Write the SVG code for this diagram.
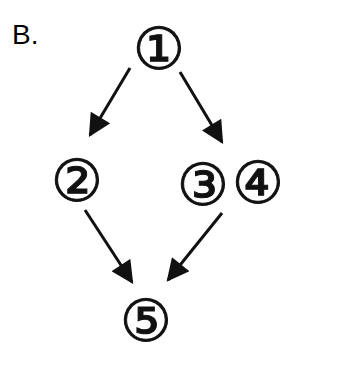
<svg xmlns="http://www.w3.org/2000/svg" width="344" height="367" viewBox="0 0 344 367">
<defs>
<style>
.n{font-family:"DejaVu Sans","Noto Sans CJK SC",sans-serif;font-size:58px;fill:#111;stroke:#111;stroke-width:1;text-anchor:middle;dominant-baseline:central}
.e{stroke:#111;stroke-width:3;fill:none;marker-end:url(#ah)}
</style>
<marker id="ah" viewBox="0 0 10 10" refX="9" refY="5" markerWidth="8" markerHeight="7.5" orient="auto" markerUnits="strokeWidth">
<path d="M0,0 L10,5 L0,10 Z" fill="#111"/>
</marker>
</defs>
<rect width="344" height="367" fill="#fff"/>
<text x="12" y="44" font-family="Liberation Sans, Arial, sans-serif" font-size="28" fill="#000">B.</text>
<g id="connectors">
<line class="e" x1="130" y1="68" x2="90" y2="135"/>
<line class="e" x1="180" y1="72" x2="222" y2="142"/>
<line class="e" x1="85" y1="210" x2="132" y2="282"/>
<line class="e" x1="222" y1="213" x2="168" y2="280"/>
</g>
<g id="n1"><text class="n" x="159" y="49">①</text></g>
<g id="n2"><text class="n" x="77" y="181">②</text></g>
<g id="n3"><text class="n" x="203" y="185">③</text></g>
<g id="n4"><text class="n" x="258" y="183">④</text></g>
<g id="n5"><text class="n" x="146" y="321">⑤</text></g>
</svg>
